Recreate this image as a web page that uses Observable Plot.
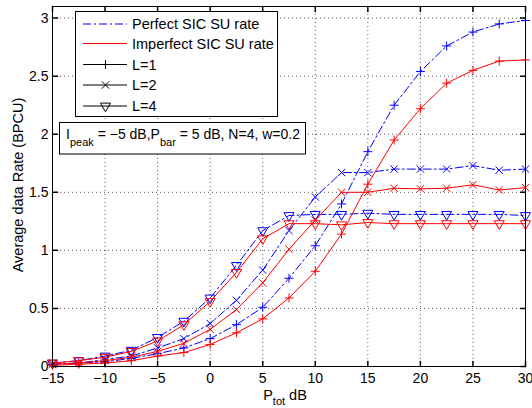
<!DOCTYPE html>
<html><head><meta charset="utf-8">
<script src="https://cdn.jsdelivr.net/npm/d3@7"></script>
<script src="https://cdn.jsdelivr.net/npm/@observablehq/plot@0.6"></script>
<style>body{margin:0;background:#fff}#chart{position:relative;width:532px;height:408px}</style>
</head><body><div id="chart"></div>
<script>
const ptot = [-15,-12.5,-10,-7.5,-5,-2.5,0,2.5,5,7.5,10,12.5,15,17.5,20,22.5,25,27.5,30];
const perfectL1   = [0.02,0.03,0.04,0.07,0.11,0.16,0.24,0.36,0.51,0.76,1.04,1.40,1.85,2.25,2.54,2.76,2.88,2.95,2.98];
const imperfectL1 = [0.01,0.02,0.03,0.05,0.09,0.12,0.19,0.29,0.41,0.59,0.82,1.14,1.57,1.95,2.22,2.44,2.55,2.63,2.64];
const perfectL2   = [0.02,0.03,0.06,0.09,0.16,0.24,0.37,0.57,0.83,1.17,1.46,1.67,1.67,1.70,1.70,1.70,1.73,1.69,1.70];
const imperfectL2 = [0.02,0.03,0.05,0.08,0.13,0.20,0.32,0.49,0.72,1.01,1.26,1.50,1.50,1.535,1.53,1.535,1.565,1.52,1.54];
const perfectL4   = [0.03,0.05,0.09,0.14,0.25,0.39,0.59,0.87,1.17,1.30,1.31,1.31,1.32,1.31,1.31,1.31,1.31,1.31,1.30];
const imperfectL4 = [0.03,0.05,0.08,0.13,0.22,0.36,0.56,0.81,1.10,1.23,1.23,1.22,1.24,1.23,1.23,1.23,1.23,1.23,1.23];
const xTicks = [-15,-10,-5,0,5,10,15,20,25,30];
const yTicks = [0,0.5,1,1.5,2,2.5,3];
const legendLabels = ["Perfect SIC SU rate","Imperfect SIC SU rate","L=1","L=2","L=4"];

const BLUE = "#0000ff", RED = "#ff0000";
const DASHDOT = "8,3,2,3";
const symbols = {1: {symbol: "plus", r: 3}, 2: {symbol: "times", r: 3.4}, 4: {symbol: "triangle2", r: 4.8, rotate: 180}};
const series = [
  {sic: "perfect", L: 1, values: perfectL1},
  {sic: "perfect", L: 2, values: perfectL2},
  {sic: "perfect", L: 4, values: perfectL4},
  {sic: "imperfect", L: 1, values: imperfectL1},
  {sic: "imperfect", L: 2, values: imperfectL2},
  {sic: "imperfect", L: 4, values: imperfectL4}
];
const rows = s => s.values.map((v, i) => ({x: ptot[i], y: v}));
const tickShape = {draw(ctx, l) { ctx.moveTo(0, 0); ctx.lineTo(0, -l); }};
const fmtX = d => d < 0 ? "\u2212" + Math.abs(d) : String(d);
const gridStyle = {stroke: "#000", strokeOpacity: 0.65, strokeDasharray: "1,3"};

const marks = [
  Plot.ruleX(xTicks.slice(1, -1), gridStyle),
  Plot.ruleY(yTicks.slice(1), gridStyle)
];
for (const s of series) {
  const color = s.sic === "perfect" ? BLUE : RED;
  marks.push(Plot.line(rows(s), {x: "x", y: "y", stroke: color, strokeWidth: 1,
    strokeDasharray: s.sic === "perfect" ? DASHDOT : null}));
  const sym = symbols[s.L];
  marks.push(Plot.dot(rows(s), {x: "x", y: "y", symbol: sym.symbol, r: sym.r, rotate: sym.rotate || 0,
    stroke: color, fill: "none", strokeWidth: 1}));
}
marks.push(
  Plot.frame({stroke: "#000", strokeWidth: 1}),
  Plot.vector(xTicks, {x: d => d, y: () => 0, length: 5, rotate: 0, anchor: "start", shape: tickShape, stroke: "#000"}),
  Plot.vector(xTicks, {x: d => d, y: () => 3.1, length: 5, rotate: 180, anchor: "start", shape: tickShape, stroke: "#000"}),
  Plot.vector(yTicks, {y: d => d, x: () => -15, length: 5, rotate: 90, anchor: "start", shape: tickShape, stroke: "#000"}),
  Plot.vector(yTicks, {y: d => d, x: () => 30, length: 5, rotate: -90, anchor: "start", shape: tickShape, stroke: "#000"}),
  Plot.axisX(xTicks, {tickSize: 0, tickPadding: 7, tickFormat: fmtX, label: null, fontSize: 14}),
  Plot.axisY(yTicks, {tickSize: 0, tickPadding: 4, tickFormat: d => String(d), label: null, fontSize: 14})
);

const svg = Plot.plot({
  width: 532, height: 408,
  marginLeft: 52, marginRight: 7, marginTop: 6, marginBottom: 42,
  x: {domain: [-15, 30]},
  y: {domain: [0, 3.1]},
  style: {fontFamily: "'Liberation Sans', Arial, sans-serif", fontSize: "14px", color: "#000", background: "#fff"},
  marks
});
document.getElementById("chart").appendChild(svg);

const g = d3.select(svg).append("g")
  .attr("font-family", "'Liberation Sans', Arial, sans-serif")
  .attr("fill", "#000").attr("text-anchor", "start");

// axis labels
const xl = g.append("text").attr("x", 285).attr("y", 400).attr("text-anchor", "middle").attr("font-size", 14.5);
xl.append("tspan").text("P");
xl.append("tspan").attr("dy", 5).attr("font-size", 11).text("tot");
xl.append("tspan").attr("dy", -5).text(" dB");
g.append("text").attr("transform", "translate(23,185) rotate(-90)").attr("text-anchor", "middle")
  .attr("font-size", 14.5).text("Average data Rate (BPCU)");

// legend
const lg = g.append("g");
lg.append("rect").attr("x", 75.5).attr("y", 11.5).attr("width", 202).attr("height", 105)
  .attr("fill", "#fff").attr("stroke", "#000");
const rowsY = [24, 43.5, 64.5, 85, 106];
legendLabels.forEach((lab, i) => {
  const y = rowsY[i];
  const color = i === 0 ? BLUE : i === 1 ? RED : "#000";
  lg.append("line").attr("x1", 83).attr("x2", 127).attr("y1", y).attr("y2", y)
    .attr("stroke", color).attr("stroke-dasharray", i === 0 ? DASHDOT : null);
  if (i >= 2) {
    const L = [1, 2, 4][i - 2];
    const sym = symbols[L];
    const type = {plus: d3.symbolPlus, times: d3.symbolTimes, triangle2: d3.symbolTriangle2}[sym.symbol];
    lg.append("path").attr("d", d3.symbol(type, Math.PI * sym.r * sym.r)())
      .attr("transform", `translate(105.5,${y}) rotate(${sym.rotate || 0})`)
      .attr("fill", "none").attr("stroke", "#000");
  }
  lg.append("text").attr("x", 132).attr("y", y + 5).attr("text-anchor", "start").attr("font-size", 14.5).text(lab);
});

// annotation
const an = g.append("g");
an.append("rect").attr("x", 59.5).attr("y", 122.5).attr("width", 246).attr("height", 31.5)
  .attr("fill", "#fff").attr("stroke", "#000");
const at = an.append("text").attr("x", 66).attr("y", 139).attr("text-anchor", "start").attr("font-size", 14);
at.append("tspan").text("I");
at.append("tspan").attr("dy", 7).attr("font-size", 11).text("peak");
at.append("tspan").attr("dy", -7).text(" = \u22125 dB,P");
at.append("tspan").attr("dy", 7).attr("font-size", 11).text("bar");
at.append("tspan").attr("dy", -7).text(" = 5 dB, N=4, w=0.2");
</script>
</body></html>
